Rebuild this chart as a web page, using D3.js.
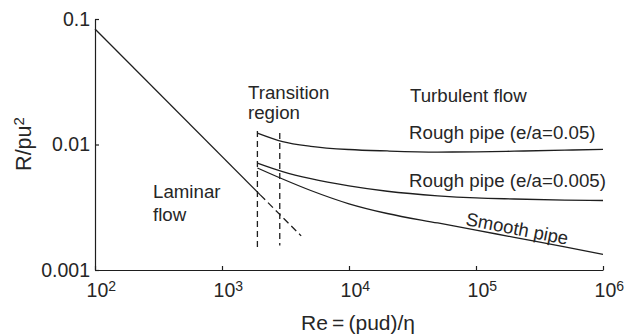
<!DOCTYPE html>
<html><head><meta charset="utf-8">
<script src="https://cdn.jsdelivr.net/npm/d3@7"></script>
<style>
body{margin:0;background:#fff}
text{font-family:"Liberation Sans",Arial,Helvetica,sans-serif;fill:#262626}
</style>
</head><body>
<svg id="c" width="625" height="334"></svg>
<script>
// ---- data ----
const reGrid = [1900, 3000, 5000, 1e4, 2e4, 5e4, 1e5, 2e5, 5e5, 1e6];
const roughPipe05 = [0.01234, 0.01056, 0.00968, 0.00912, 0.00888, 0.00871, 0.00874, 0.00885, 0.00901, 0.00916];
const roughPipe005 = [0.00712, 0.00609, 0.00534, 0.00468, 0.00424, 0.00390, 0.00375, 0.00368, 0.00361, 0.00358];
const smoothPipe = [0.00650, 0.00531, 0.00430, 0.00337, 0.00282, 0.00237, 0.00208, 0.00182, 0.00153, 0.00133];
const laminarRe = [100, 2000];
const laminarVal = [0.0832, 0.00397];
const laminarExtRe = [2000, 4200];
const laminarExtVal = [0.00397, 0.00187];
const transitionRe = [1900, 2850];
const transitionTop = [0.0128, 0.01234];
const transitionBottom = [0.00147, 0.00157];
const xTickValues = [1e2, 1e3, 1e4, 1e5, 1e6];
const xTickExponents = ["2", "3", "4", "5", "6"];
const yTickValues = [0.1, 0.01, 0.001];
const yTickLabels = ["0.1", "0.01", "0.001"];

// ---- chart ----
const svg = d3.select("#c");
const x = d3.scaleLog().domain([1e2, 1e6]).range([95, 603]);
const y = d3.scaleLog().domain([0.001, 0.1]).range([270, 19]);
const ink = "#1e1e1e";

const yAxis = d3.axisLeft(y).tickValues(yTickValues)
  .tickFormat((d, i) => yTickLabels[i]).tickSize(-4).tickSizeOuter(0).tickPadding(5);
const gy = svg.append("g").attr("transform", "translate(95,0)").call(yAxis);
gy.selectAll("text").style("font-size", "19.5px");

const xAxis = d3.axisBottom(x).tickValues(xTickValues)
  .tickFormat(() => "").tickSize(-4).tickSizeOuter(0).tickPadding(13);
const gx = svg.append("g").attr("transform", "translate(0,270)").call(xAxis);
gx.selectAll(".tick text").each(function(d, i) {
  const t = d3.select(this).style("font-size", "19.5px").attr("dx", "0.3em");
  t.append("tspan").text("10");
  t.append("tspan").text(xTickExponents[i]).attr("dy", "-0.45em").style("font-size", "14px");
});
svg.selectAll(".domain, .tick line").attr("stroke", ink).attr("stroke-width", 1.2);

const line = d3.line().x(d => x(d[0])).y(d => y(d[1]));
const curve = d3.line().x(d => x(d[0])).y(d => y(d[1])).curve(d3.curveMonotoneX);

function path(gen, xs, ys, dash) {
  svg.append("path").datum(xs.map((v, i) => [v, ys[i]]))
    .attr("d", gen).attr("fill", "none").attr("stroke", ink)
    .attr("stroke-width", 1.3).attr("stroke-dasharray", dash || null);
}
path(line, laminarRe, laminarVal);
path(line, laminarExtRe, laminarExtVal, "7,4");
transitionRe.forEach((r, i) => path(line, [r, r], [transitionTop[i], transitionBottom[i]], "6,4"));
path(curve, reGrid, roughPipe05);
path(curve, reGrid, roughPipe005);
path(curve, reGrid, smoothPipe);

// ---- labels ----
function label(txt, px, py, size, extra) {
  const t = svg.append("text").attr("x", px).attr("y", py).style("font-size", (size || 18.7) + "px").text(txt);
  if (extra) extra(t);
  return t;
}
label("Transition", 248, 99);
label("region", 248, 119);
label("Laminar", 153, 198);
label("flow", 153, 221);
label("Turbulent flow", 410, 102);
label("Rough pipe (e/a=0.05)", 409, 139);
label("Rough pipe (e/a=0.005)", 409, 187);
label("Smooth pipe", 465, 225, 18.5, t => t.attr("transform", "rotate(11,465,225)"));

// axis titles
svg.append("text").attr("x", 358).attr("y", 330).attr("text-anchor", "middle")
  .style("font-size", "21px").text("Re\u2009=\u2009(pud)/η");
const yt = svg.append("text").attr("transform", "translate(31,144) rotate(-90)")
  .attr("text-anchor", "middle").style("font-size", "21.5px");
yt.append("tspan").text("R/pu");
yt.append("tspan").text("2").attr("dy", "-0.45em").style("font-size", "15px");
</script>
</body></html>
